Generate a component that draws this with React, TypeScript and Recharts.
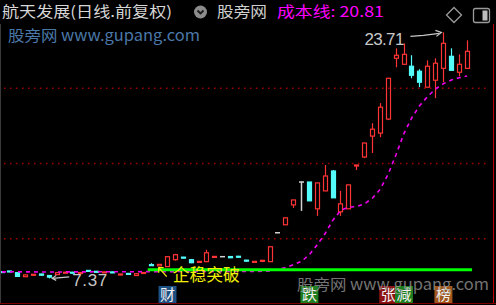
import { ComposedChart, Bar, Line, XAxis, YAxis, ReferenceLine, ReferenceDot } from 'recharts';

// daily candles, 60 sessions (前复权)
const opens = [
  7.82, 7.86, 7.75, 7.48, 7.6, 7.66, 7.56, 7.62, 7.74, 7.78,
  7.72, 7.9, 7.84, 7.76, 7.8, 7.6, 7.7, 7.56, 7.7, 8.28,
  8.2, 8.15, 8.61, 8.78, 8.61, 8.46, 8.48, 8.8, 8.81, 8.82,
  8.84, 8.58, 8.46, 8.5, 8.48, 10.4, 10.93, 12.25, 13.77, 13.77,
  11.99, 13.18, 14.5, 11.79, 11.99, 14.84, 15.43, 16.82, 17.02, 17.95,
  21.99, 21.59, 21.46, 21.13, 20.07, 20.53, 21.32, 22.12, 21.06, 21.32,
];
const highs = [
  7.83, 7.87, 7.78, 7.62, 7.66, 7.68, 7.58, 7.76, 7.8, 7.8,
  7.78, 7.92, 7.86, 7.82, 7.82, 7.68, 7.72, 7.7, 7.78, 8.38,
  8.32, 8.81, 9.0, 8.8, 8.66, 8.52, 9.27, 8.84, 8.83, 8.84,
  8.86, 8.6, 8.51, 8.58, 9.47, 10.45, 11.39, 12.58, 13.8, 13.77,
  13.71, 14.9, 14.57, 13.18, 13.58, 14.92, 16.38, 17.68, 19.01, 20.66,
  22.65, 22.98, 22.19, 21.26, 21.85, 21.99, 23.71, 22.65, 22.25, 23.18,
];
const lows = [
  7.78, 7.83, 7.48, 7.46, 7.58, 7.55, 7.37, 7.6, 7.72, 7.7,
  7.7, 7.85, 7.78, 7.75, 7.72, 7.58, 7.64, 7.55, 7.68, 8.2,
  8.18, 8.15, 8.55, 8.7, 8.38, 8.44, 8.48, 8.79, 8.79, 8.72,
  8.76, 8.5, 8.45, 8.49, 8.46, 10.38, 10.93, 12.05, 11.85, 12.52,
  11.52, 13.18, 12.72, 11.52, 11.99, 14.57, 15.36, 15.7, 16.75, 17.88,
  21.39, 21.59, 20.66, 20.07, 20.07, 19.34, 20.4, 21.19, 20.79, 21.32,
];
const closes = [
  7.79, 7.84, 7.5, 7.6, 7.64, 7.58, 7.45, 7.75, 7.78, 7.72,
  7.76, 7.86, 7.8, 7.8, 7.74, 7.66, 7.66, 7.68, 7.76, 8.22,
  8.3, 8.81, 8.94, 8.72, 8.41, 8.5, 9.07, 8.83, 8.81, 8.74,
  8.78, 8.52, 8.5, 8.57, 9.47, 10.4, 11.39, 12.58, 13.77, 12.52,
  13.71, 14.17, 12.72, 12.32, 13.58, 14.9, 16.36, 17.28, 18.74, 20.66,
  22.19, 22.25, 20.86, 20.4, 21.46, 21.66, 22.98, 21.19, 21.59, 22.45,
];
// 成本线
const costLine = [
  7.8, 7.8, 7.81, 7.8, 7.8, 7.79, 7.79, 7.79, 7.8, 7.8,
  7.8, 7.8, 7.81, 7.81, 7.81, 7.81, 7.81, 7.81, 7.82, 7.82,
  7.82, 7.82, 7.82, 7.83, 7.83, 7.83, 7.83, 7.83, 7.83, 7.83,
  7.83, 7.83, 7.83, 7.84, 7.86, 7.95, 8.1, 8.28, 8.5, 8.95,
  9.6, 10.35, 11.25, 11.9, 12.1, 12.14, 12.33, 12.7, 13.3, 14.3,
  15.6, 17.0, 18.05, 18.85, 19.45, 19.95, 20.3, 20.55, 20.7, 20.81,
];

const priceDomain = [6, 24];
const gridPrices = [10, 15, 20];
const breakoutLevel = 7.95;
const breakoutStart = 19;
const lowIdx = 6;
const highIdx = 56;
const eventIdx = [21, 39, 49, 51, 56];
const eventText = ['财', '跌', '张', '减', '榜'];

const RED = '#ff3434';
const CYAN = '#54fcfc';
const WHITE = '#d0d0d0';
const GRAY = '#c8c8c8';
const FONT = "'Noto Sans CJK SC', sans-serif";

const eventColors: Record<string, string> = {
  财: '#1d4f82',
  跌: '#1e7d1e',
  张: '#8c1414',
  减: '#1e7d1e',
  榜: '#a0561c',
};

function Candle(props: any) {
  const { x, y, width, height, payload } = props;
  const { open, close, high, low } = payload;
  const k = height / (high - low);
  const py = (v: number) => y + (high - v) * k;
  const cx = Math.round(x + width / 2) + 0.5;
  const left = cx - width / 2;
  const top = py(Math.max(open, close));
  const bot = py(Math.min(open, close));
  const up = close > open;
  const down = close < open;
  const color = up ? RED : down ? CYAN : WHITE;
  const bodyH = Math.max(bot - top, 1);

  if (!up && !down) {
    return (
      <g>
        <line x1={cx} x2={cx} y1={py(high)} y2={py(low)} stroke={color} strokeWidth={1.5} />
        <line x1={left} x2={left + width} y1={top} y2={top} stroke={color} strokeWidth={1.5} />
      </g>
    );
  }
  return (
    <g>
      <line x1={cx} x2={cx} y1={py(high)} y2={py(low)} stroke={color} strokeWidth={1.2} />
      <rect
        x={left + 0.5}
        y={top}
        width={width - 1}
        height={bodyH}
        fill={up ? '#000' : color}
        stroke={color}
        strokeWidth={1.2}
      />
    </g>
  );
}

function GreenBar(props: any) {
  const { x1, y1, x2, y2 } = props;
  return <line x1={x1 - 4} y1={y1} x2={x2 + 5} y2={y2} stroke="#00ff00" strokeWidth={3} />;
}

function LowMark(props: any) {
  const { cx, cy } = props;
  return (
    <g fill="none" stroke={GRAY} strokeWidth={1.2}>
      <line x1={cx + 3} y1={cy} x2={cx + 20} y2={cy - 1.5} />
      <polyline points={`${cx + 7},${cy - 3} ${cx + 3},${cy} ${cx + 7},${cy + 2}`} />
      <text x={cx + 23} y={cy + 8} fontSize={17} fill={GRAY} stroke="none" fontFamily="'Liberation Sans', sans-serif" textLength={35}>
        7.37
      </text>
    </g>
  );
}

function HighMark(props: any) {
  const { cx, cy } = props;
  return (
    <g fill="none" stroke={GRAY} strokeWidth={1.2}>
      <polyline points={`${cx - 33},${cy + 4} ${cx - 20},${cy + 3} ${cx - 4},${cy + 1}`} />
      <polyline points={`${cx - 8},${cy - 2} ${cx - 2},${cy} ${cx - 7},${cy + 4}`} />
      <text x={cx - 39} y={cy + 13} fontSize={17} fill={GRAY} stroke="none" textAnchor="end" fontFamily="'Liberation Sans', sans-serif" textLength={40}>
        23.71
      </text>
    </g>
  );
}

function BreakoutMark(props: any) {
  const { cx, cy } = props;
  return (
    <g>
      <g fill="none" stroke="#f0f000" strokeWidth={1.3}>
        <line x1={cx + 15} y1={cy + 7} x2={cx + 7} y2={cy - 2} />
        <polyline points={`${cx + 7},${cy + 3} ${cx + 7},${cy - 2} ${cx + 12},${cy - 2}`} />
      </g>
      <text x={cx + 21} y={cy + 11} fontSize={17} fill="#f0f000" fontFamily={FONT} textLength={67} lengthAdjust="spacingAndGlyphs">
        企稳突破
      </text>
    </g>
  );
}

function eventMark(label: string) {
  return (props: any) => {
    const { cx, cy } = props;
    return (
      <g>
        <rect x={cx - 9} y={cy - 13} width={18} height={17} fill={eventColors[label]} />
        <text x={cx} y={cy + 1} fontSize={15} fill="#f2f2f2" textAnchor="middle" fontFamily={FONT}>
          {label}
        </text>
      </g>
    );
  };
}

export default function App() {
  const data = opens.map((o, i) => ({
    i,
    open: o,
    high: highs[i],
    low: lows[i],
    close: closes[i],
    cost: costLine[i],
    range: [lows[i], highs[i]],
  }));

  return (
    <div style={{ position: 'absolute', left: 0, top: 0, width: 496, height: 305, background: '#000', overflow: 'hidden' }}>
      <ComposedChart width={496} height={305} data={data} margin={{ top: 28, right: 6, bottom: 6, left: -2 }}>
        <XAxis dataKey="i" type="category" hide padding={{ left: 0, right: 19 }} />
        <YAxis type="number" domain={priceDomain} hide allowDataOverflow />
        {gridPrices.map((p) => (
          <ReferenceLine key={p} y={p} stroke="#a00000" strokeWidth={1.5} strokeDasharray="1.5 4.5" />
        ))}
        <Line
          dataKey="cost"
          stroke="#f000f0"
          strokeWidth={1.6}
          strokeDasharray="4 4"
          dot={false}
          isAnimationActive={false}
        />
        <ReferenceLine
          segment={[
            { x: breakoutStart, y: breakoutLevel },
            { x: data.length - 1, y: breakoutLevel },
          ]}
          shape={GreenBar}
          ifOverflow="visible"
        />
        <Bar dataKey="range" barSize={5} shape={Candle} isAnimationActive={false} />
        <ReferenceDot x={lowIdx} y={lows[lowIdx]} r={2} shape={LowMark} ifOverflow="visible" />
        <ReferenceDot x={highIdx} y={highs[highIdx]} r={2} shape={HighMark} ifOverflow="visible" />
        <ReferenceDot x={breakoutStart} y={breakoutLevel} r={2} shape={BreakoutMark} ifOverflow="visible" />
        {eventIdx.map((idx, k) => (
          <ReferenceDot
            key={idx}
            x={idx}
            y={priceDomain[0]}
            r={2}
            shape={eventMark(eventText[k])}
            ifOverflow="visible"
          />
        ))}
      </ComposedChart>

      <svg
        width={496}
        height={305}
        style={{ position: 'absolute', left: 0, top: 0, pointerEvents: 'none' }}
        fontFamily={FONT}
      >
        <text x={2} y={17} fontSize={15} fill="#d6d6d6" textLength={170} lengthAdjust="spacingAndGlyphs">
          航天发展(日线.前复权)
        </text>
        <circle cx={200.5} cy={12} r={6.5} fill="#8c8c8c" />
        <polyline points="197.5,10.5 200.5,13.5 203.5,10.5" fill="none" stroke="#1a1a1a" strokeWidth={1.8} />
        <text x={217} y={17} fontSize={15} fill="#cfcfcf" textLength={50} lengthAdjust="spacingAndGlyphs">
          股旁网
        </text>
        <text x={277} y={17} fontSize={15} fill="#ff00ff" textLength={107} lengthAdjust="spacingAndGlyphs">
          成本线: 20.81
        </text>
        <polygon points="454,7.5 461.5,15 454,22.5 446.5,15" fill="none" stroke="#9a9a9a" strokeWidth={1.3} />
        <rect x={473.5} y={8.5} width={16} height={14} rx={2} fill="none" stroke="#9a9a9a" strokeWidth={1.3} />
        <rect x={482.5} y={10.5} width={5} height={10} fill="#bdbdbd" />

        <text x={8} y={41} fontSize={15} fill="#4a78a8" textLength={192} lengthAdjust="spacingAndGlyphs">
          股旁网 www.gupang.com
        </text>
        <text x={297} y={290} fontSize={15} fill="#9a9a9a" opacity={0.75} textLength={192} lengthAdjust="spacingAndGlyphs">
          股旁网 www.gupang.com
        </text>

        <line x1={0.5} y1={24} x2={0.5} y2={304} stroke="#3a3a3a" />
        <line x1={493.5} y1={24} x2={493.5} y2={304} stroke="#c00000" />
        <line x1={0} y1={303.5} x2={496} y2={303.5} stroke="#7a0000" />
      </svg>
    </div>
  );
}
